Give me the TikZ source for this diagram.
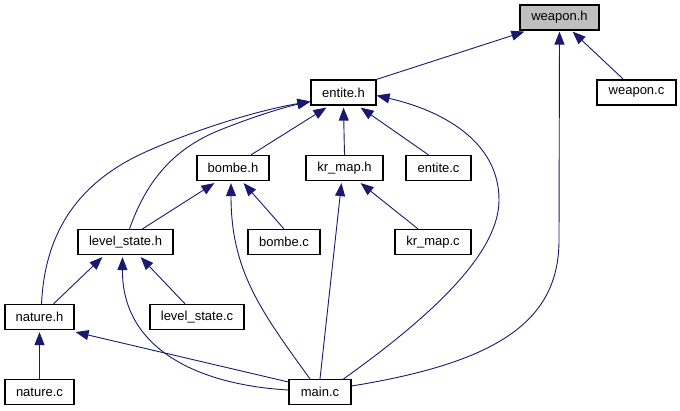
\documentclass[tikz,border=0pt]{standalone}
\usepackage{fontspec}
\setmainfont{Liberation Sans}
\usetikzlibrary{arrows.meta}
\definecolor{edgeblue}{RGB}{25,25,112}
\definecolor{curgray}{RGB}{191,191,191}
\tikzset{
  file/.style={draw=black, line width=1.2pt, minimum height=25pt, inner sep=0pt,
    font=\fontsize{13}{15}\selectfont},
  dep/.style={draw=edgeblue, line width=0.9pt, -{Triangle[length=13pt,width=10pt]}}
}
\begin{document}
\begin{tikzpicture}[x=1pt, y=-1pt]
  \useasboundingbox (0,0) rectangle (680,411);
  % files
  \node[file, fill=curgray, minimum width=79pt] (weaponh) at (559.5,17.5) {weapon.h};
  \node[file, minimum width=79pt] (weaponc) at (636.5,92.5) {weapon.c};
  \node[file, minimum width=65pt] (entiteh) at (343.5,92.5) {entite.h};
  \node[file, minimum width=72pt] (bombeh) at (233,168) {bombe.h};
  \node[file, minimum width=77pt] (krmaph) at (344.5,168) {kr\_map.h};
  \node[file, minimum width=65pt] (entitec) at (438.5,168) {entite.c};
  \node[file, minimum width=95pt] (levelh) at (125.5,242) {level\_state.h};
  \node[file, minimum width=72pt] (bombec) at (284,242) {bombe.c};
  \node[file, minimum width=76pt] (krmapc) at (433,242) {kr\_map.c};
  \node[file, minimum width=69pt] (natureh) at (39.5,317) {nature.h};
  \node[file, minimum width=94pt] (levelc) at (197,317) {level\_state.c};
  \node[file, minimum width=69pt] (naturec) at (39.5,392) {nature.c};
  \node[file, minimum width=62pt] (mainc) at (320,392) {main.c};
  % includes
  \draw[dep] (entiteh.north east) -- ([xshift=5pt,yshift=-1pt]weaponh.south west);
  \draw[dep] ([xshift=-13pt]weaponc.north) -- ([xshift=-27pt,yshift=-1pt]weaponh.south east);
  \draw[dep] ([yshift=6pt]mainc.east) .. controls (500,362) and (559,320) .. (559,240)
      -- ([yshift=-1pt]weaponh.south);
  \draw[dep] ([xshift=18pt]bombeh.north) -- ([xshift=16pt,yshift=-2pt]entiteh.south west);
  \draw[dep] (krmaph.north) -- ([yshift=-2pt]entiteh.south);
  \draw[dep] ([xshift=-10pt]entitec.north) -- ([xshift=-16pt,yshift=-2pt]entiteh.south east);
  \draw[dep] ([xshift=4pt]levelh.north) .. controls (145,185) and (170,150) .. (220,130)
      .. controls (255,116) and (285,107) .. ([yshift=-9pt]entiteh.west);
  \draw[dep] ([xshift=2pt]natureh.north) .. controls (45,230) and (80,180) .. (150,150)
      .. controls (200,128) and (260,110) .. ([yshift=-9pt]entiteh.west);
  \draw[dep] ([xshift=-8pt]mainc.north east) .. controls (440,310) and (499,250) .. (499,200)
      .. controls (499,140) and (440,110) .. ([yshift=-3pt]entiteh.east);
  \draw[dep] ([xshift=17pt]levelh.north) -- ([xshift=18pt,yshift=-2pt]bombeh.south west);
  \draw[dep] (bombec.north) -- ([xshift=-26pt,yshift=-2pt]bombeh.south east);
  \draw[dep] ([xshift=-10pt]mainc.north) .. controls (260,310) and (231,270) .. ([xshift=-2pt,yshift=-2pt]bombeh.south);
  \draw[dep] ([xshift=-15pt]krmapc.north) -- ([xshift=-23pt,yshift=-2pt]krmaph.south east);
  \draw[dep] (mainc.north) -- ([xshift=-3pt,yshift=-2pt]krmaph.south);
  \draw[dep] ([xshift=14pt]natureh.north) -- ([xshift=25pt,yshift=-2pt]levelh.south west);
  \draw[dep] ([xshift=-12pt]levelc.north) -- ([xshift=-33pt,yshift=-2pt]levelh.south east);
  \draw[dep] ([yshift=2pt]mainc.west) .. controls (200,385) and (122,350) .. ([xshift=-3pt,yshift=-2pt]levelh.south);
  \draw[dep] ([yshift=10pt]mainc.west) -- ([xshift=1pt,yshift=-2pt]natureh.south east);
  \draw[dep] (naturec.north) -- ([yshift=-2pt]natureh.south);
\end{tikzpicture}
\end{document}
